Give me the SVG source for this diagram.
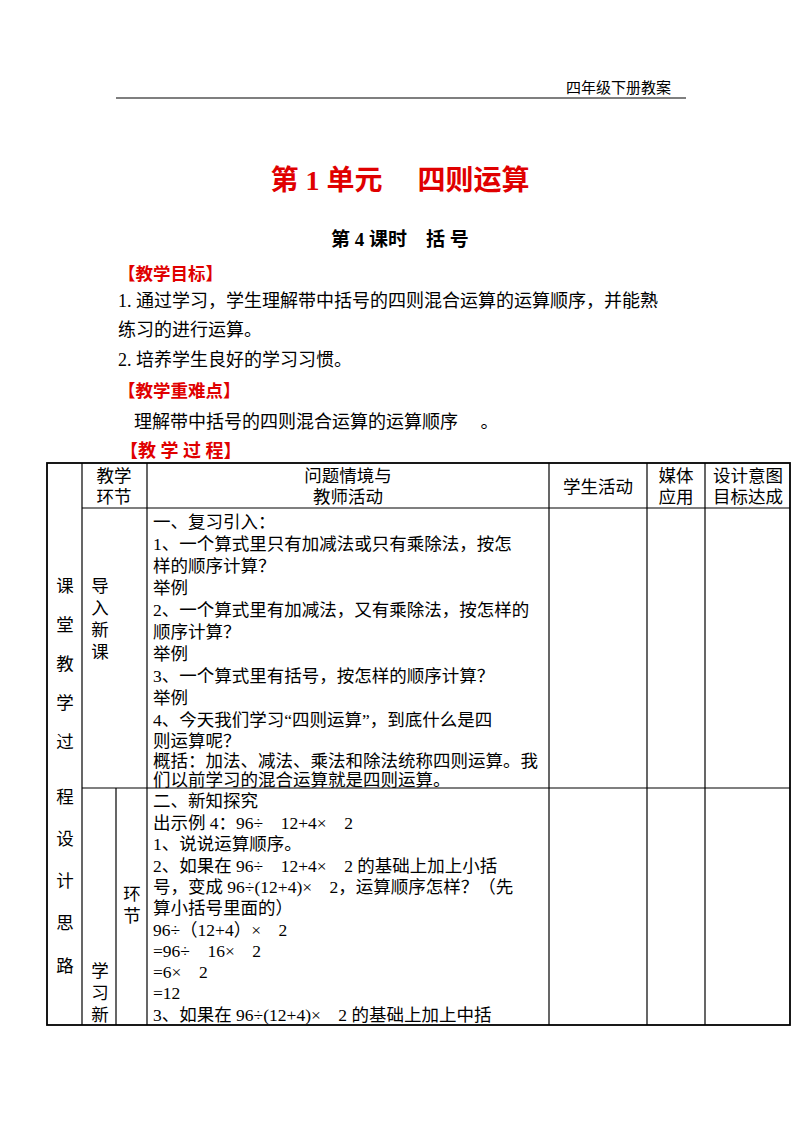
<svg xmlns="http://www.w3.org/2000/svg" width="800" height="1132" viewBox="0 0 800 1132">
<style>
text{font-family:"Liberation Serif","Noto Sans CJK SC",serif;font-size:17.5px;fill:#000}
.r{fill:#e00000;font-weight:bold}
.b{font-weight:bold}
line{stroke:#000;stroke-width:1.2}
</style>
<rect width="800" height="1132" fill="#fff"/>
<text x="566" y="93" style="font-size:15px">四年级下册教案</text>
<line x1="116" y1="98" x2="686" y2="98"/>
<text x="400" y="190" class="r" text-anchor="middle" style="font-size:28px">第 1 单元　 四则运算</text>
<text x="400" y="246" class="b" text-anchor="middle" style="font-size:19px">第 4 课时　括  号</text>
<text x="118" y="280" class="r">【教学目标】</text>
<text x="118" y="307" style="font-size:18px">1. 通过学习，学生理解带中括号的四则混合运算的运算顺序，并能熟</text>
<text x="118" y="336" style="font-size:18px">练习的进行运算。</text>
<text x="118" y="366" style="font-size:18px">2. 培养学生良好的学习习惯。</text>
<text x="118" y="397" class="r">【教学重难点】</text>
<text x="134" y="428" style="font-size:18px">理解带中括号的四则混合运算的运算顺序　 。</text>
<text x="120" y="457" class="r" style="font-size:18px">【教 学 过 程】</text>
<g id="table">
<rect x="47" y="463" width="743" height="562" fill="none" stroke="#000" stroke-width="1.8"/>
<line x1="82" y1="463" x2="82" y2="1025"/>
<line x1="147" y1="463" x2="147" y2="1025"/>
<line x1="549" y1="463" x2="549" y2="1025"/>
<line x1="647" y1="463" x2="647" y2="1025"/>
<line x1="705" y1="463" x2="705" y2="1025"/>
<line x1="116" y1="788" x2="116" y2="1025"/>
<line x1="82" y1="508" x2="790" y2="508"/>
<line x1="82" y1="788" x2="790" y2="788"/>
</g>
<g id="header">
<text x="114" y="482" text-anchor="middle">教学</text>
<text x="114" y="503" text-anchor="middle">环节</text>
<text x="348" y="482" text-anchor="middle">问题情境与</text>
<text x="348" y="503" text-anchor="middle">教师活动</text>
<text x="598" y="493" text-anchor="middle">学生活动</text>
<text x="676" y="482" text-anchor="middle">媒体</text>
<text x="676" y="503" text-anchor="middle">应用</text>
<text x="748" y="482" text-anchor="middle">设计意图</text>
<text x="748" y="503" text-anchor="middle">目标达成</text>
</g>
<g id="left" text-anchor="middle">
<text x="65" y="592">课</text><text x="65" y="631">堂</text><text x="65" y="670">教</text>
<text x="65" y="709">学</text><text x="65" y="748">过</text><text x="65" y="803">程</text>
<text x="65" y="845">设</text><text x="65" y="887">计</text><text x="65" y="929">思</text>
<text x="65" y="972">路</text>
<text x="100" y="592">导</text><text x="100" y="614">入</text><text x="100" y="636">新</text><text x="100" y="658">课</text>
<text x="132" y="900">环</text><text x="132" y="922">节</text>
<text x="100" y="977">学</text><text x="100" y="999">习</text><text x="100" y="1021">新</text>
</g>
<g id="content">
<text x="153" y="528">一、复习引入：</text>
<text x="153" y="550">1、一个算式里只有加减法或只有乘除法，按怎</text>
<text x="153" y="572">样的顺序计算？</text>
<text x="153" y="594">举例</text>
<text x="153" y="616">2、一个算式里有加减法，又有乘除法，按怎样的</text>
<text x="153" y="638">顺序计算？</text>
<text x="153" y="660">举例</text>
<text x="153" y="682">3、一个算式里有括号，按怎样的顺序计算？</text>
<text x="153" y="704">举例</text>
<text x="153" y="726">4、今天我们学习“四则运算”，到底什么是四</text>
<text x="153" y="747">则运算呢？</text>
<text x="153" y="767">概括：加法、减法、乘法和除法统称四则运算。我</text>
<text x="153" y="786">们以前学习的混合运算就是四则运算。</text>
<text x="153" y="807">二、新知探究</text>
<text x="153" y="829">出示例 4：96÷　12+4×　2</text>
<text x="153" y="850">1、说说运算顺序。</text>
<text x="153" y="872">2、如果在 96÷　12+4×　2 的基础上加上小括</text>
<text x="153" y="893">号，变成 96÷(12+4)×　2，运算顺序怎样？（先</text>
<text x="153" y="914">算小括号里面的）</text>
<text x="153" y="936">96÷（12+4）×　2</text>
<text x="153" y="957">=96÷　16×　2</text>
<text x="153" y="978">=6×　2</text>
<text x="153" y="999">=12</text>
<text x="153" y="1021">3、如果在 96÷(12+4)×　2 的基础上加上中括</text>
</g>
</svg>
